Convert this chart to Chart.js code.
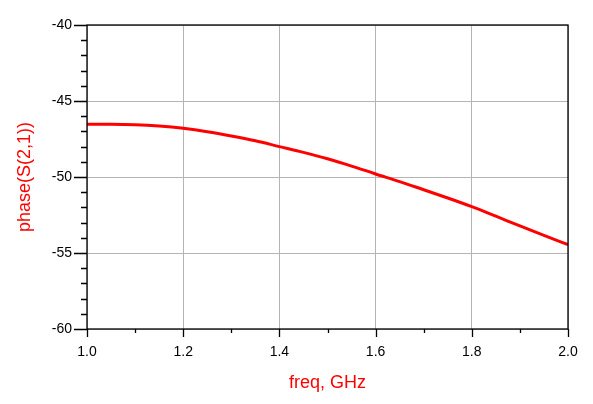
<!DOCTYPE html>
<html>
<head>
<meta charset="utf-8">
<script src="https://cdn.jsdelivr.net/npm/chart.js@4.4.0/dist/chart.umd.min.js"></script>
<style>
  html, body { margin: 0; padding: 0; background: #fff; }
  #wrap { width: 593px; height: 404px; }
</style>
</head>
<body>
<div id="wrap"><canvas id="phase"></canvas></div>
<script>
// freq in GHz, phase in degrees
const freqs = [1.0, 1.05, 1.1, 1.15, 1.2, 1.25, 1.3, 1.35, 1.4, 1.45, 1.5,
  1.55, 1.6, 1.65, 1.7, 1.75, 1.8, 1.85, 1.9, 1.95, 2.0];
const phases = [-46.53, -46.53, -46.56, -46.65, -46.8, -47.02, -47.3, -47.62, -48.0, -48.38, -48.8,
  -49.28, -49.8, -50.3, -50.84, -51.38, -51.95, -52.58, -53.22, -53.84, -54.45];

const xTicks = [1.0, 1.2, 1.4, 1.6, 1.8, 2.0];
const yTicks = [-60, -55, -50, -45, -40];

const red = '#ff0000';
const gridGray = '#b4b4b4';

// frame + major/minor tick marks drawn outside the plot area
const framePlugin = {
  id: 'frame',
  afterDraw(chart) {
    const { ctx, chartArea: a, scales: { x, y } } = chart;
    ctx.save();
    ctx.strokeStyle = '#000';
    ctx.lineWidth = 1.3;
    ctx.strokeRect(a.left, a.top, a.right - a.left, a.bottom - a.top);

    ctx.beginPath();
    for (let v = y.min; v <= y.max + 1e-9; v += 1) {
      const py = Math.round(y.getPixelForValue(v)) + 0.5;
      const len = Math.abs(v % 5) < 1e-9 ? 13 : 6;
      ctx.moveTo(a.left - len, py);
      ctx.lineTo(a.left, py);
    }
    for (let i = 0; i <= 10; i++) {
      const v = x.min + i * 0.1;
      const px = Math.round(x.getPixelForValue(v)) + 0.5;
      const len = i % 2 === 0 ? 8 : 4;
      ctx.moveTo(px, a.bottom);
      ctx.lineTo(px, a.bottom + len);
    }
    ctx.stroke();
    ctx.restore();
  }
};

new Chart(document.getElementById('phase'), {
  type: 'line',
  data: {
    datasets: [{
      data: freqs.map((f, i) => ({ x: f, y: phases[i] })),
      borderColor: red,
      borderWidth: 3,
      pointRadius: 0,
      cubicInterpolationMode: 'monotone',
      fill: false
    }]
  },
  options: {
    responsive: true,
    maintainAspectRatio: false,
    animation: false,
    layout: { padding: { top: 25, right: 25, left: 0, bottom: 0 } },
    plugins: {
      legend: { display: false },
      tooltip: { enabled: false }
    },
    scales: {
      x: {
        type: 'linear',
        min: 1.0,
        max: 2.0,
        afterFit: function (scale) { scale.height = 75; },
        afterBuildTicks: function (scale) {
          scale.ticks = xTicks.map(v => ({ value: v }));
        },
        grid: { color: gridGray, lineWidth: 1, drawTicks: false },
        border: { display: false },
        ticks: {
          padding: 15,
          color: '#000',
          font: { family: 'Liberation Sans', size: 14 },
          maxRotation: 0,
          callback: function (value) { return Number(value).toFixed(1); }
        },
        title: {
          display: true,
          text: 'freq, GHz',
          color: red,
          font: { family: 'Liberation Sans', size: 18 },
          padding: { top: 0, bottom: 10 }
        }
      },
      y: {
        min: -60,
        max: -40,
        afterFit: function (scale) { scale.width = 87; },
        afterBuildTicks: function (scale) {
          scale.ticks = yTicks.map(v => ({ value: v }));
        },
        grid: { color: gridGray, lineWidth: 1, drawTicks: false },
        border: { display: false },
        ticks: {
          padding: 15,
          color: '#000',
          font: { family: 'Liberation Sans', size: 14 }
        },
        title: {
          display: true,
          text: 'phase(S(2,1))',
          color: red,
          font: { family: 'Liberation Sans', size: 18 },
          padding: { top: 14, bottom: 0 }
        }
      }
    }
  },
  plugins: [framePlugin]
});
</script>
</body>
</html>
